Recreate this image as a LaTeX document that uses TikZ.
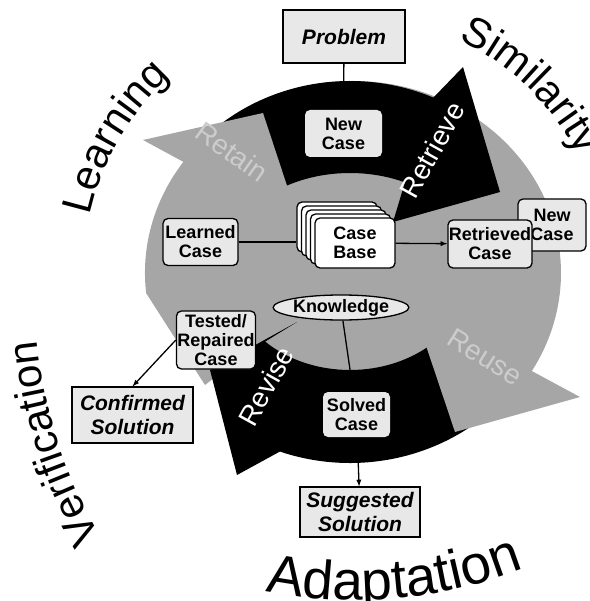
\documentclass[tikz,border=0pt]{standalone}
\usepackage{fontspec}
\setmainfont{Liberation Sans}
\usetikzlibrary{shapes.geometric,decorations.text}

\colorlet{ringgrey}{black!35}
\colorlet{boxgrey}{black!9}

\begin{document}
\begin{tikzpicture}[x=1pt,y=1pt,>=latex,
  casebox/.style={draw,rounded corners=5pt,fill=boxgrey,line width=1.3pt,inner sep=1pt,
    align=center,font=\fontsize{18}{19}\selectfont\bfseries},
  bandbox/.style={casebox,draw=none},
  solbox/.style={draw,fill=boxgrey,line width=1.2pt,inner sep=1pt,align=center,
    font=\fontsize{21}{24}\selectfont\bfseries\itshape},
  arrowlabel/.style={white,font=\fontsize{28}{28}\selectfont},
  faintlabel/.style={arrowlabel,white!80!black},
  bigword/.style={decorate,decoration={text along path,text align=center,
    text format delimiters={|}{|}}}]
\useasboundingbox (0,0) rectangle (589,-601);

% the ring
\begin{scope}[shift={(350,-273)}]
\fill[ringgrey] (0,0) -- (-145,-112) -- (186:205 and 192)
  arc[start angle=186,end angle=-50,x radius=208,y radius=192] -- cycle;
\fill[ringgrey] (0,0) ellipse[x radius=130,y radius=100];
% retrieve
\fill (130:205 and 192) arc[start angle=130,end angle=66,x radius=205,y radius=192]
  -- (113,206) -- (150,81) -- (43,51)
  -- (65:130 and 100) arc[start angle=65,end angle=130,x radius=130,y radius=100] -- cycle;
% revise
\fill (-45:205 and 190) arc[start angle=-45,end angle=-110,x radius=205,y radius=190]
  -- (-113,-202) -- (-140,-97) -- (-53,-49)
  -- (225:120 and 97) arc[start angle=225,end angle=315,x radius=120,y radius=97] -- cycle;
% retain and reuse heads
\fill[ringgrey] (-207,133) -- (-87,160) -- (-50,48) -- cycle;
\fill[ringgrey] (230,-124) -- (105,-159) -- (63,-34) -- cycle;
\end{scope}

\node[arrowlabel,rotate=61] at (432,-150) {Retrieve};
\node[arrowlabel,rotate=61] at (266,-386) {Revise};
\node[faintlabel,rotate=-32] at (485,-357) {Reuse};
\node[faintlabel,rotate=-35] at (232,-152) {Retain};

% big words
\path[bigword,decoration={text={|\fontsize{42}{42}\selectfont|Learning}}]
  ([shift={(350,-273)}]180:266) arc[start angle=180,end angle=120,radius=266];
\path[bigword,decoration={text={|\fontsize{42}{42}\selectfont|Similarity}}]
  ([shift={(350,-273)}]80:257) arc[start angle=80,end angle=12,radius=257];
\path[bigword,decoration={text={|\fontsize{42}{42}\selectfont|Verification}}]
  ([shift={(505,-297)}]226:470) arc[start angle=226,end angle=170,radius=470];
\path[bigword,decoration={text={|\fontsize{55}{55}\selectfont|Adaptation}}]
  ([shift={(356,-139)}]245:461) arc[start angle=245,end angle=305,radius=461];

% cases
\node[solbox,minimum width=122,minimum height=53] (problem) at (344,-36.5) {Problem};
\node[bandbox,minimum width=77,minimum height=47] (newcase) at (343.5,-133.5) {New\\Case};
\foreach \k in {4,3,2,1}
  \node[casebox,fill=white,minimum width=80,minimum height=50] (cb\k) at (355-4.5*\k,-243+4*\k) {};
\node[casebox,fill=white,minimum width=80,minimum height=50] (casebase) at (355,-243) {Case\\Base};
\node[casebox,minimum width=75,minimum height=47] (learned) at (200.5,-242) {Learned\\Case};
\node[casebox,minimum width=68,minimum height=52] (newcasetwo) at (552,-225) {New\\Case};
\node[casebox,minimum width=84,minimum height=48] (retrieved) at (490,-244) {Retrieved\\Case};
\node[casebox,minimum width=78,minimum height=58] (tested) at (216,-340) {Tested/\\Repaired\\Case};
\node[ellipse,draw,fill=boxgrey,line width=1.3pt,inner sep=0pt,minimum width=112,minimum height=25,
  font=\fontsize{18}{19}\selectfont\bfseries] (knowledge) at (341,-307.5) {Knowledge};
\node[bandbox,minimum width=67,minimum height=45] (solved) at (356.5,-414.5) {Solved\\Case};
\node[solbox,minimum width=120,minimum height=50] (suggested) at (360,-512) {Suggested\\Solution};
\node[solbox,minimum width=121,minimum height=56] (confirmed) at (132.5,-415) {Confirmed\\Solution};

% links
\draw[line width=1.3pt] (problem) -- (newcase);
\draw[line width=1.3pt] (learned.east) -- (learned.east -| cb4.west);
\draw[line width=1.3pt,->] (casebase) -- (retrieved);
\draw[line width=1.3pt] (knowledge) -- (solved);
\draw[line width=1.3pt,->] (tested.west) -- (confirmed.north);
\draw[line width=1.3pt,->] (solved) -- (suggested);
\end{tikzpicture}
\end{document}
